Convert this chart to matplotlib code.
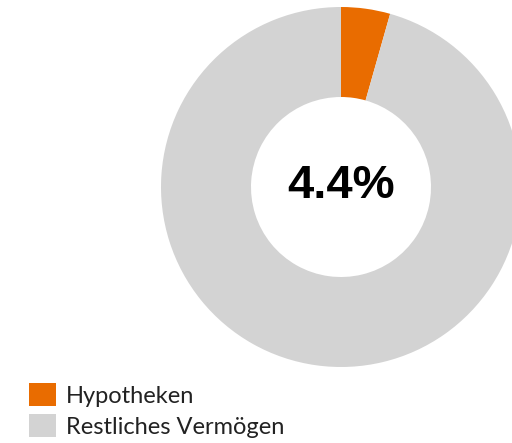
import matplotlib
matplotlib.use("Agg")
import matplotlib.pyplot as plt
from matplotlib.patches import Patch

labels = ["Hypotheken", "Restliches Vermögen"]
shares = [4.4, 95.6]
colors = ["#E96C00", "#D3D3D3"]

fig = plt.figure(figsize=(5.12, 4.43), dpi=100)
ax = fig.add_axes([0, 0, 1, 1])

ax.pie(shares, colors=colors, startangle=90, counterclock=False,
       radius=180, center=(341, 256), frame=True,
       wedgeprops=dict(width=90, linewidth=0))
ax.set_xlim(0, 512)
ax.set_ylim(0, 443)
ax.set_aspect("equal")
ax.axis("off")

ax.text(341, 245, f"{shares[0]:.1f}%", ha="center", va="baseline",
        fontsize=34, fontweight="bold", family="Liberation Sans")

handles = [Patch(facecolor=c, edgecolor="none") for c in colors]
fig.legend(handles, labels, loc="upper left", bbox_to_anchor=(29 / 512, 1 - 383 / 443),
           frameon=False, prop={"family": "Lato", "size": 17},
           handlelength=1.15, handleheight=1.15, handletextpad=0.4,
           labelspacing=0.3, borderpad=0, borderaxespad=0, labelcolor="#222222")

fig.savefig("out.png", dpi=100)
